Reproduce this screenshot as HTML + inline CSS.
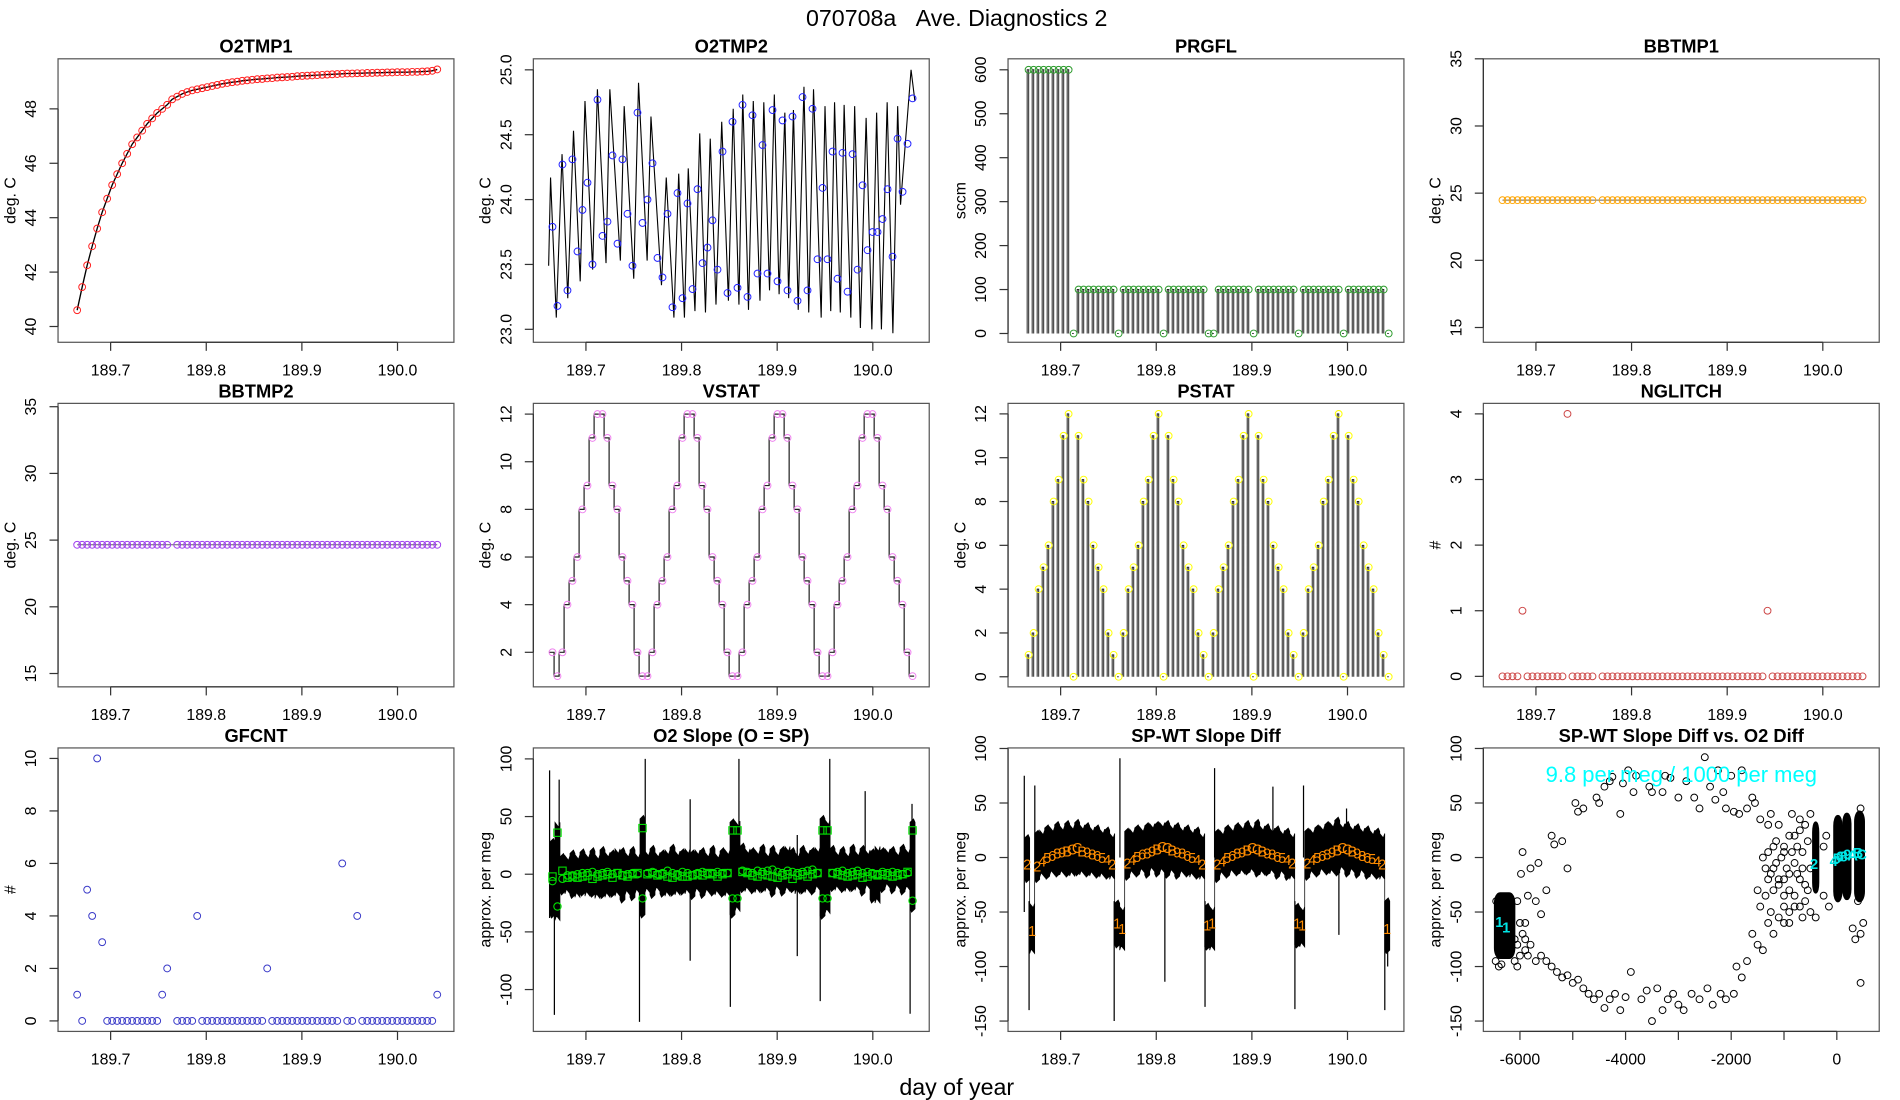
<!DOCTYPE html>
<html>
<head>
<meta charset="utf-8">
<style>
html,body{margin:0;padding:0;background:#fff;}
svg{display:block;font-family:"Liberation Sans",sans-serif;}
</style>
</head>
<body>
<svg id="chart" width="1900" height="1100" viewBox="0 0 1555 900" xmlns="http://www.w3.org/2000/svg">
<text x="783" y="21" font-size="19" text-anchor="middle">070708a&#160;&#160;&#160;Ave. Diagnostics 2</text>
<text x="783" y="896" font-size="19" text-anchor="middle">day of year</text>
</svg>
<script>
// ---------------- data ----------------
const T0 = 189.665;
const TSTEP = 0.00523;
const timeTicks = [189.7, 189.8, 189.9, 190.0];
const timeTickLabels = ["189.7", "189.8", "189.9", "190.0"];

const o2tmp1 = [40.6,41.45,42.25,42.95,43.6,44.2,44.7,45.2,45.6,46.0,
46.35,46.7,46.95,47.2,47.45,47.65,47.85,48.0,48.15,48.35,
48.45,48.55,48.62,48.68,48.72,48.76,48.8,48.84,48.88,48.92,
48.95,48.98,49.0,49.03,49.05,49.07,49.09,49.1,49.12,49.13,
49.15,49.16,49.17,49.18,49.2,49.21,49.22,49.23,49.24,49.25,
49.26,49.27,49.28,49.29,49.3,49.3,49.31,49.31,49.32,49.32,
49.33,49.33,49.34,49.34,49.35,49.35,49.35,49.36,49.36,49.37,
49.38,49.4,49.45];

const o2tmp2 = [23.79,23.18,24.27,23.30,24.31,23.60,23.92,24.13,23.50,24.77,
23.72,23.83,24.34,23.66,24.31,23.89,23.49,24.67,23.82,24.0,
24.28,23.55,23.40,23.89,23.17,24.05,23.24,23.97,23.31,24.08,
23.51,23.63,23.84,23.46,24.37,23.28,24.60,23.32,24.73,23.25,
24.65,23.43,24.42,23.43,24.69,23.37,24.61,23.30,24.64,23.22,
24.79,23.30,24.70,23.54,24.09,23.54,24.37,23.39,24.36,23.29,
24.35,23.46,24.11,23.61,23.75,23.75,23.85,24.08,23.56,24.47,
24.06,24.43,24.78];
const o2tmp2LineT = [189.661,189.663,189.669,189.675,189.681,189.687,189.694,189.699,189.707,189.712,
189.721,189.725,189.736,189.740,189.750,189.755,189.764,189.768,189.779,189.784,
189.792,189.797,189.803,189.807,189.814,189.819,189.825,189.830,189.836,189.842,
189.849,189.854,189.860,189.864,189.870,189.875,189.882,189.886,189.892,189.897,
189.902,189.908,189.912,189.917,189.922,189.928,189.933,189.938,189.946,189.950,
189.956,189.960,189.966,189.970,189.977,189.981,189.987,189.993,189.999,190.004,
190.009,190.015,190.021,190.026,190.029,190.040,190.044];
const o2tmp2LineV = [23.49,24.17,23.09,24.35,23.24,24.53,23.37,24.76,23.46,24.85,
23.51,24.85,23.53,24.72,23.39,24.90,23.53,24.64,23.34,24.17,
23.09,24.20,23.09,24.24,23.14,24.51,23.13,24.47,23.19,24.60,
23.22,24.70,23.19,24.81,23.15,24.76,23.22,24.75,23.30,24.81,
23.27,24.67,23.24,24.69,23.15,24.87,23.13,24.85,23.09,24.72,
23.14,24.75,23.13,24.73,23.09,24.72,23.01,24.63,23.00,24.67,
23.00,24.75,22.97,24.72,23.96,25.0,24.76];

const prgfl = [600,600,600,600,600,600,600,600,600,0,
100,100,100,100,100,100,100,100,0,100,
100,100,100,100,100,100,100,0,100,100,
100,100,100,100,100,100,0,0,100,100,
100,100,100,100,100,0,100,100,100,100,
100,100,100,100,0,100,100,100,100,100,
100,100,100,0,100,100,100,100,100,100,
100,100,0];

const bbtmp1 = [24.48,24.48,24.48,24.48,24.48,24.48,24.48,24.48,24.48,24.48,
24.48,24.48,24.48,24.48,24.48,24.48,24.48,24.48,24.48,null,
24.48,24.48,24.48,24.48,24.48,24.48,24.48,24.48,24.48,24.48,
24.48,24.48,24.48,24.48,24.48,24.48,24.48,24.48,24.48,24.48,
24.48,24.48,24.48,24.48,24.48,24.48,24.48,24.48,24.48,24.48,
24.48,24.48,24.48,24.48,24.48,24.48,24.48,24.48,24.48,24.48,
24.48,24.48,24.48,24.48,24.48,24.48,24.48,24.48,24.48,24.48,
24.48,24.48,24.48];
const bbtmp2 = [24.65,24.65,24.65,24.65,24.65,24.65,24.65,24.65,24.65,24.65,
24.65,24.65,24.65,24.65,24.65,24.65,24.65,24.65,24.65,null,
24.65,24.65,24.65,24.65,24.65,24.65,24.65,24.65,24.65,24.65,
24.65,24.65,24.65,24.65,24.65,24.65,24.65,24.65,24.65,24.65,
24.65,24.65,24.65,24.65,24.65,24.65,24.65,24.65,24.65,24.65,
24.65,24.65,24.65,24.65,24.65,24.65,24.65,24.65,24.65,24.65,
24.65,24.65,24.65,24.65,24.65,24.65,24.65,24.65,24.65,24.65,
24.65,24.65,24.65];

const vstat = [2,1,2,4,5,6,8,9,11,12,
12,11,9,8,6,5,4,2,1,1,
2,4,5,6,8,9,11,12,12,11,
9,8,6,5,4,2,1,1,2,4,
5,6,8,9,11,12,12,11,9,8,
6,5,4,2,1,1,2,4,5,6,
8,9,11,12,12,11,9,8,6,5,
4,2,1];

const pstat = [1,2,4,5,6,8,9,11,12,0,
11,9,8,6,5,4,2,1,0,2,
4,5,6,8,9,11,12,0,11,9,
8,6,5,4,2,1,0,2,4,5,
6,8,9,11,12,0,11,9,8,6,
5,4,2,1,0,2,4,5,6,8,
9,11,12,0,11,9,8,6,5,4,
2,1,0];

const nglitch = [0,0,0,0,1,0,0,0,0,0,
0,0,0,4,0,0,0,0,0,null,
0,0,0,0,0,0,0,0,0,0,
0,0,0,0,0,0,0,0,0,0,
0,0,0,0,0,0,0,0,0,0,
0,0,0,1,0,0,0,0,0,0,
0,0,0,0,0,0,0,0,0,0,
0,0,0];

const gfcnt = [1,0,5,4,10,3,0,0,0,0,
0,0,0,0,0,0,0,1,2,null,
0,0,0,0,4,0,0,0,0,0,
0,0,0,0,0,0,0,0,2,0,
0,0,0,0,0,0,0,0,0,0,
0,0,0,6,0,0,4,0,0,0,
0,0,0,0,0,0,0,0,0,0,
0,0,1];

const o2Hi = [28,45,15,16,18,17,19,18,20,17,
21,19,18,22,20,19,21,18,48,20,
22,19,18,21,23,20,19,22,18,21,
20,19,22,18,20,21,45,46,24,22,
20,21,23,19,22,20,21,24,20,19,
22,21,20,23,48,47,22,20,21,19,
23,20,22,21,19,24,20,22,21,20,
23,22,45];
const o2Lo = [-35,-40,-15,-17,-18,-20,-16,-19,-17,-21,
-18,-20,-17,-19,-22,-18,-20,-17,-35,-16,
-18,-15,-17,-19,-16,-18,-15,-17,-19,-16,
-18,-17,-16,-18,-17,-19,-35,-32,-13,-15,
-14,-16,-13,-15,-17,-14,-16,-15,-13,-17,
-14,-16,-15,-14,-36,-34,-12,-14,-13,-15,
-12,-14,-16,-13,-22,-25,-13,-12,-14,-13,
-15,-14,-30];
const o2Sq = [-2,36,3,-3,-2,-3,-2,-1,-4,-2,
-1,0,-3,1,-1,-2,0,1,40,0,
1,-1,0,-2,-3,-1,-2,-2,-1,0,
-1,1,0,-2,0,1,38,38,2,1,
-1,-2,0,-1,-2,-3,-1,0,-4,-1,
0,-2,0,1,38,38,1,0,-1,-2,
-1,0,-3,-2,0,-1,0,-1,-2,-1,
0,2,38];
const o2Ci = [-6,-28,-4,-1,-1,0,1,1,2,0,
1,2,0,1,-1,0,1,0,-21,1,
2,0,1,3,1,0,2,1,-1,1,
2,0,1,2,1,1,-21,-21,3,2,
1,3,2,3,4,2,1,3,2,1,
2,3,4,1,-21,-21,1,2,3,1,
2,3,1,2,1,0,2,1,2,1,
0,1,-23];
const o2SpikeT = [189.662,189.667,189.672,189.756,189.762,189.809,189.851,189.860,189.921,189.945,189.955,189.992,190.039,190.041];
const o2SpikeTop = [90,20,82,10,100,65,20,100,34,20,100,72,10,61];
const o2SpikeBot = [-38,-122,-10,-128,10,-75,-115,10,-71,-110,10,0,-121,0];

const spwtHi = [18,-42,22,25,27,28,30,29,31,30,
32,30,29,28,27,26,25,22,-42,-45,
24,26,27,28,29,31,30,32,31,30,
29,28,27,26,25,22,-45,-45,23,25,
27,28,29,30,31,30,32,29,28,27,
26,25,24,22,-45,-45,24,26,27,29,
30,32,34,31,30,29,28,27,26,25,
24,22,-40];
const spwtLo = [-20,-88,-20,-18,-17,-16,-15,-16,-15,-17,
-14,-16,-15,-17,-16,-18,-17,-20,-80,-85,
-18,-16,-15,-14,-16,-13,-15,-14,-16,-15,
-17,-16,-15,-18,-17,-20,-82,-85,-20,-17,
-16,-15,-14,-15,-13,-14,-15,-16,-14,-15,
-17,-16,-18,-20,-80,-82,-18,-16,-15,-14,
-13,-15,-14,-12,-15,-14,-16,-15,-17,-18,
-17,-20,-85];
const spwtV = [-6,-67,-8,-3,0,2,4,5,6,8,
9,6,5,3,2,0,-2,-6,-60,-65,
-5,-2,1,3,4,6,8,10,9,7,
5,4,2,0,-2,-6,-62,-60,-6,-3,
0,2,4,5,7,9,8,6,4,3,
1,0,-2,-5,-60,-62,-5,-2,0,2,
3,5,7,9,8,6,4,2,0,-1,
-3,-6,-65];
const spSpikeT = [189.662,189.667,189.673,189.756,189.762,189.809,189.851,189.861,189.922,189.945,189.954,189.991,189.999,190.039,190.042];
const spSpikeTop = [75,-40,66,-40,91,0,-40,82,65,-40,66,0,45,-40,-40];
const spSpikeBot = [-50,-140,-10,-150,0,-114,-137,0,0,-139,0,-71,0,-140,-100];

const scX = [-5800,-5650,-5500,-5400,-5350,-5200,-5100,-4950,-4900,-4800,-4550,-4500,-4400,-4300,-4250,-4100,-4050,-3950,-3850,-3800,-3550,-3500,-3300,-3250,-3150,-3000,-2850,-2700,-2600,-2500,-2400,-2300,-2250,-2150,-2100,-2000,-1950,-1850,-1800,-1700,-1600,-1550,-1450,-1300,-1250,-1150,-1100,-1000,-900,-850,-750,-700,-650,-600,
-6100,-5900,-5800,-5700,-5600,-5500,-5400,-5300,-5200,-5100,-5000,-4900,-4800,-4700,-4600,-4500,-4400,-4300,-4200,-4100,-4000,-3900,-3700,-3600,-3500,-3400,-3300,-3200,-3100,-3000,-2900,-2750,-2600,-2450,-2350,-2200,-2100,-1950,-1900,-1800,-1700,-1600,-1500,-1400,-1300,-1200,-1100,-1000,-900,-800,-700,-500,-400,
300,350,450,450,400,500,450,-500,-1000,-1200,-1300,-1200,-1100,-1000,-900,-6400,-6350,-5950,-5980,-5850,-5700,-5600,
-1400,-1350,-1300,-1250,-1200,-1150,-1100,-1050,-1000,-950,-900,-850,-800,-750,-700,-650,-600,-550,-600,-700,-800,-900,-1000,-650,-550,-500,-250,-200,-250,-150,-1500,-1450,-1350,-1250,-800,
-6050,-6000,-6050,-6000,-5950,-5900,-6100,-6050,-5900,-5850,-6450,-6460];
const scY = [-10,-5,-30,20,12,15,-10,50,42,45,55,50,65,70,74,40,68,80,60,75,65,60,60,75,73,55,70,55,45,92,65,53,80,60,45,75,42,40,80,45,55,50,35,30,40,15,30,5,20,40,-15,25,-10,-25,
-75,-85,-80,-95,-90,-95,-100,-105,-110,-108,-115,-112,-120,-125,-130,-125,-138,-130,-125,-140,-128,-105,-130,-122,-150,-120,-140,-130,-125,-135,-140,-125,-130,-120,-135,-125,-130,-125,-100,-110,-95,-70,-80,-85,-60,-70,-55,-45,-50,-35,-45,-50,-55,
-65,-75,-70,-115,-40,-60,45,40,-20,-10,-20,-30,-25,-35,-15,-100,-98,5,-15,-35,-40,-52,
0,-10,5,-15,10,-5,-20,0,10,-10,-30,5,-5,10,-20,5,-40,15,30,35,-45,-60,-60,-55,-30,-10,-35,20,10,-45,-30,-45,-35,-50,20,
-40,-60,-80,-90,-70,-60,-95,-100,-75,-90,-40,-95];
const clX = [-6290,-400,20,190,430];
const clW = [360,90,130,130,160];
const clYlo = [-92,-32,-40,-38,-40];
const clYhi = [-33,32,38,40,42];
const scLab = ["1","1","2","4","5","6","8","9","A","B","C"];
const scLabX = [-6390,-6260,-430,-60,0,60,130,200,300,400,470];
const scLabY = [-58,-63,-5,-2,0,2,2,4,3,5,4];

// ---------------- drawing ----------------
const NS = "http://www.w3.org/2000/svg";
const svg = document.getElementById("chart");
function mk(tag, attrs, parent) {
  const e = document.createElementNS(NS, tag);
  for (const k in attrs) e.setAttribute(k, attrs[k]);
  parent.appendChild(e);
  return e;
}
const COLX = [47.5, 436.5, 825, 1214];
const ROWY = [48, 330, 612];
const PW = 324, PH = 232;
const TXLIM = [189.645, 190.059];
function tOf(i) { return T0 + TSTEP * i; }

function panel(col, row, name, title, xlim, ylim, yticks, ytickLabels, ylab, xticks, xtickLabels, xminor) {
  const L = COLX[col], T = ROWY[row];
  const g = mk("g", {}, svg);
  
  
  const sx = v => L + (v - xlim[0]) / (xlim[1] - xlim[0]) * PW;
  const sy = v => T + PH - (v - ylim[0]) / (ylim[1] - ylim[0]) * PH;
  const plot = mk("g", {}, g);
  
  
  const box = mk("rect", {x: L, y: T, width: PW, height: PH, fill: "none", stroke: "#555", "stroke-width": 1}, g);
  
  
  const tt = mk("text", {x: L + PW / 2, y: T - 5, "font-size": 15, "font-weight": "bold", "text-anchor": "middle"}, g);
  tt.textContent = title;
  
  
  const xa = mk("g", {stroke: "#333", "stroke-width": 1}, g);
  
  
  const allx = xminor || xticks;
  mk("line", {x1: sx(allx[0]), x2: sx(allx[allx.length - 1]), y1: T + PH, y2: T + PH}, xa);
  allx.forEach(v => mk("line", {x1: sx(v), x2: sx(v), y1: T + PH, y2: T + PH + 7}, xa));
  xticks.forEach((v, i) => {
    const t = mk("text", {x: sx(v), y: T + PH + 27, "font-size": 13, "text-anchor": "middle", stroke: "none", fill: "#000"}, xa);
    t.textContent = xtickLabels[i];
    
    
  });
  const ya = mk("g", {stroke: "#333", "stroke-width": 1}, g);
  
  
  mk("line", {x1: L, x2: L, y1: sy(yticks[0]), y2: sy(yticks[yticks.length - 1])}, ya);
  yticks.forEach((v, i) => {
    mk("line", {x1: L, x2: L - 7, y1: sy(v), y2: sy(v)}, ya);
    const x = L - 18, y = sy(v);
    const t = mk("text", {x: x, y: y, "font-size": 13, "text-anchor": "middle", transform: `rotate(-90 ${x} ${y})`, stroke: "none", fill: "#000"}, ya);
    t.textContent = ytickLabels[i];
    
    
  });
  if (ylab) {
    const x = L - 35, y = T + PH / 2;
    const t = mk("text", {x: x, y: y, "font-size": 13, "text-anchor": "middle", transform: `rotate(-90 ${x} ${y})`}, g);
    t.textContent = ylab;
    
    
  }
  return {sx, sy, g: plot};
}
function circles(p, xs, ys, color, name) {
  const g = mk("g", {fill: "none", stroke: color, "stroke-width": 0.8}, p.g);
  
  
  ys.forEach((v, i) => {
    if (v === null) return;
    const c = mk("circle", {cx: p.sx(xs[i]), cy: p.sy(v), r: 2.8}, g);
    
    
  });
}
function polyline(p, xs, ys, color, name, w) {
  let d = "";
  ys.forEach((v, i) => { if (v !== null) d += (d ? "L" : "M") + p.sx(xs[i]).toFixed(2) + "," + p.sy(v).toFixed(2); });
  const e = mk("path", {d: d, fill: "none", stroke: color, "stroke-width": w || 0.9}, p.g);
  
  
}
function capBars(p, xs, ys, name) {
  let d = "";
  const dw = 0.0016;
  ys.forEach((v, i) => {
    const x0 = p.sx(xs[i]), x1 = p.sx(xs[i] + dw), y0 = p.sy(0), y1 = p.sy(v);
    d += `M${x0.toFixed(2)},${y0.toFixed(2)}V${y1.toFixed(2)}H${x1.toFixed(2)}V${y0.toFixed(2)}`;
  });
  const e = mk("path", {d: d, fill: "none", stroke: "#222", "stroke-width": 0.8}, p.g);
  
  
}
function band(p, hi, lo, name) {
  const half = TSTEP / 2;
  let up = "", dn = "";
  hi.forEach((v, i) => {
    const t = tOf(i);
    up += (i ? "L" : "M") + p.sx(t - half).toFixed(2) + "," + p.sy(v).toFixed(2) + "L" + p.sx(t + half * 0.4).toFixed(2) + "," + p.sy(v - (i % 2 ? 4 : -3)).toFixed(2) + "L" + p.sx(t + half).toFixed(2) + "," + p.sy(v).toFixed(2);
  });
  for (let i = lo.length - 1; i >= 0; i--) {
    const t = tOf(i);
    dn += "L" + p.sx(t + half).toFixed(2) + "," + p.sy(lo[i]).toFixed(2) + "L" + p.sx(t - half * 0.4).toFixed(2) + "," + p.sy(lo[i] + (i % 2 ? 4 : -3)).toFixed(2) + "L" + p.sx(t - half).toFixed(2) + "," + p.sy(lo[i]).toFixed(2);
  }
  const e = mk("path", {d: up + dn + "Z", fill: "#000", stroke: "#000", "stroke-width": 0.6}, p.g);
  
  
}
function spikes(p, ts, tops, bots, name) {
  let d = "";
  ts.forEach((t, i) => { d += `M${p.sx(t).toFixed(2)},${p.sy(tops[i]).toFixed(2)}V${p.sy(bots[i]).toFixed(2)}`; });
  const e = mk("path", {d: d, fill: "none", stroke: "#000", "stroke-width": 1}, p.g);
  
  
}
const idxTimes = o2tmp1.map((_, i) => tOf(i));

// Row 1
let p = panel(0, 0, "o2tmp1", "O2TMP1", TXLIM, [39.42, 49.84], [40, 42, 44, 46, 48], ["40", "42", "44", "46", "48"], "deg. C", timeTicks, timeTickLabels);
polyline(p, idxTimes, o2tmp1, "#000", "o2tmp1-line", 1.1);
circles(p, idxTimes, o2tmp1, "#ff2020", "o2tmp1-points");

p = panel(1, 0, "o2tmp2", "O2TMP2", TXLIM, [22.9, 25.085], [23.0, 23.5, 24.0, 24.5, 25.0], ["23.0", "23.5", "24.0", "24.5", "25.0"], "deg. C", timeTicks, timeTickLabels);
polyline(p, o2tmp2LineT, o2tmp2LineV, "#000", "o2tmp2-line", 0.9);
circles(p, idxTimes, o2tmp2, "#2020ff", "o2tmp2-points");

p = panel(2, 0, "prgfl", "PRGFL", TXLIM, [-20, 625], [0, 100, 200, 300, 400, 500, 600], ["0", "100", "200", "300", "400", "500", "600"], "sccm", timeTicks, timeTickLabels);
capBars(p, idxTimes, prgfl, "prgfl-lines");
circles(p, idxTimes.map(t => t + 0.0015), prgfl, "#2a9a2a", "prgfl-points");

p = panel(3, 0, "bbtmp1", "BBTMP1", TXLIM, [13.9, 35.0], [15, 20, 25, 30, 35], ["15", "20", "25", "30", "35"], "deg. C", timeTicks, timeTickLabels);
polyline(p, idxTimes, bbtmp1, "#666", "bbtmp1-line", 0.8);
circles(p, idxTimes, bbtmp1, "#ffa500", "bbtmp1-points");

// Row 2
p = panel(0, 1, "bbtmp2", "BBTMP2", TXLIM, [14.0, 35.25], [15, 20, 25, 30, 35], ["15", "20", "25", "30", "35"], "deg. C", timeTicks, timeTickLabels);
polyline(p, idxTimes, bbtmp2, "#666", "bbtmp2-line", 0.8);
circles(p, idxTimes, bbtmp2, "#a040f0", "bbtmp2-points");

p = panel(1, 1, "vstat", "VSTAT", TXLIM, [0.55, 12.45], [2, 4, 6, 8, 10, 12], ["2", "4", "6", "8", "10", "12"], "deg. C", timeTicks, timeTickLabels);
{
  let d = "";
  vstat.forEach((v, i) => {
    const x = p.sx(tOf(i) - 0.0035), y = p.sy(v);
    d += (i ? "V" + y.toFixed(2) + "H" : "M" + x.toFixed(2) + "," + y.toFixed(2) + "H") + p.sx(tOf(i) + 0.0017).toFixed(2);
  });
  const e = mk("path", {d: d, fill: "none", stroke: "#222", "stroke-width": 1}, p.g);
  
  
}
circles(p, idxTimes, vstat, "#ee82ee", "vstat-points");

p = panel(2, 1, "pstat", "PSTAT", TXLIM, [-0.46, 12.48], [0, 2, 4, 6, 8, 10, 12], ["0", "2", "4", "6", "8", "10", "12"], "deg. C", timeTicks, timeTickLabels);
capBars(p, idxTimes, pstat, "pstat-lines");
circles(p, idxTimes.map(t => t + 0.0015), pstat, "#ffff00", "pstat-points");

p = panel(3, 1, "nglitch", "NGLITCH", TXLIM, [-0.16, 4.16], [0, 1, 2, 3, 4], ["0", "1", "2", "3", "4"], "#", timeTicks, timeTickLabels);
circles(p, idxTimes, nglitch, "#cc4444", "nglitch-points");

// Row 3
p = panel(0, 2, "gfcnt", "GFCNT", TXLIM, [-0.4, 10.4], [0, 2, 4, 6, 8, 10], ["0", "2", "4", "6", "8", "10"], "#", timeTicks, timeTickLabels);
circles(p, idxTimes, gfcnt, "#3a3ac8", "gfcnt-points");

p = panel(1, 2, "o2-slope", "O2 Slope (O = SP)", TXLIM, [-136.3, 109.5], [-100, -50, 0, 50, 100], ["-100", "-50", "0", "50", "100"], "approx. per meg", timeTicks, timeTickLabels);
band(p, o2Hi, o2Lo, "o2-slope-noise-band");
spikes(p, o2SpikeT, o2SpikeTop, o2SpikeBot, "o2-slope-spikes");
{
  const g = mk("g", {fill: "none", stroke: "#00e000", "stroke-width": 0.9}, p.g);
  
  
  o2Sq.forEach((v, i) => {
    const r = mk("rect", {x: p.sx(tOf(i)) - 3, y: p.sy(v) - 3, width: 6, height: 6}, g);
    
    
  });
  o2Ci.forEach((v, i) => {
    const c = mk("circle", {cx: p.sx(tOf(i)), cy: p.sy(v), r: 3}, g);
    
    
  });
}

p = panel(2, 2, "spwt-slope-diff", "SP-WT Slope Diff", TXLIM, [-159.5, 100.5], [-150, -100, -50, 0, 50, 100], ["-150", "-100", "-50", "0", "50", "100"], "approx. per meg", timeTicks, timeTickLabels);
band(p, spwtHi, spwtLo, "spwt-noise-band");
spikes(p, spSpikeT, spSpikeTop, spSpikeBot, "spwt-spikes");
{
  const g = mk("g", {fill: "#ff8c00", "font-size": 12, "text-anchor": "middle"}, p.g);
  
  
  spwtV.forEach((v, i) => {
    const t = mk("text", {x: p.sx(tOf(i)), y: p.sy(v) + 4.5}, g);
    t.textContent = vstat[i].toString(16).toUpperCase();
    
    
  });
}

p = panel(3, 2, "slope-vs-o2", "SP-WT Slope Diff vs. O2 Diff", [-6693, 803], [-159.5, 100.5], [-150, -100, -50, 0, 50, 100], ["-150", "-100", "-50", "0", "50", "100"], "approx. per meg", [-6000, -4000, -2000, 0], ["-6000", "-4000", "-2000", "0"], [-6000, -5000, -4000, -3000, -2000, -1000, 0]);
{
  const cg = mk("g", {fill: "#000", stroke: "#000", "stroke-width": 2}, p.g);
  
  
  clX.forEach((x, i) => {
    const x0 = p.sx(x - clW[i] / 2), x1 = p.sx(x + clW[i] / 2);
    const y0 = p.sy(clYhi[i]), y1 = p.sy(clYlo[i]);
    const r = mk("rect", {x: x0, y: y0, width: x1 - x0, height: y1 - y0, rx: 4, ry: 8}, cg);
    
    
  });
  circles(p, scX, scY, "#000", "scatter-points");
  const lg = mk("g", {fill: "#00e5e5", "font-size": 12, "text-anchor": "middle", "font-weight": "bold"}, p.g);
  
  
  scLab.forEach((s, i) => {
    const t = mk("text", {x: p.sx(scLabX[i]), y: p.sy(scLabY[i]) + 5}, lg);
    t.textContent = s;
    
    
  });
  const ann = mk("text", {x: 1376, y: 640, "font-size": 18, fill: "#00ffff", "text-anchor": "middle"}, svg);
  ann.textContent = "9.8 per meg / 1000 per meg";
  
  
}
</script>
</body>
</html>
